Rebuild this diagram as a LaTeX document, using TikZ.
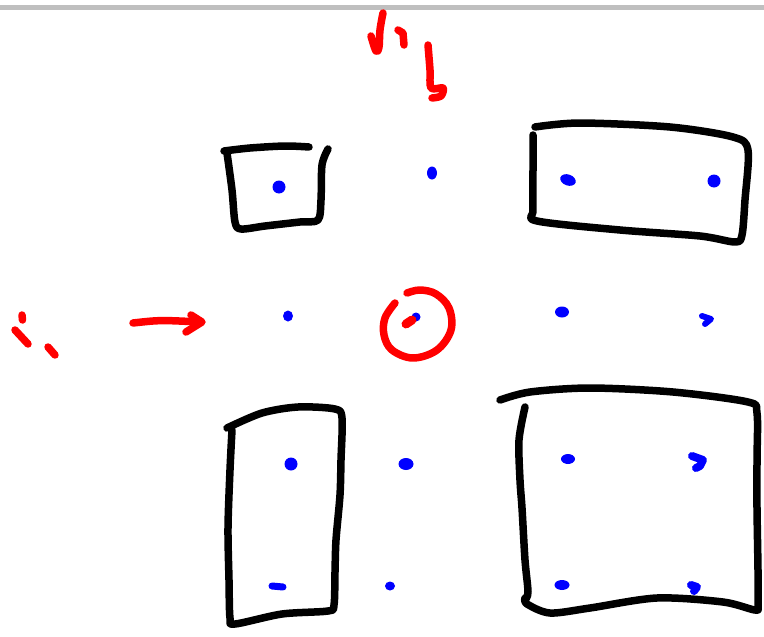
\documentclass[tikz,border=0pt]{standalone}
\usetikzlibrary{shapes.geometric}
\begin{document}
\begin{tikzpicture}[x=1pt,y=-1pt,
  pen/.style={line width=7.5pt,line cap=round,line join=round,black},
  redpen/.style={line width=7.5pt,line cap=round,line join=round,red},
  bluepen/.style={line width=8pt,line cap=round,line join=round,blue},
  dot/.style={ellipse,fill=blue,inner sep=0pt,minimum width=12pt,minimum height=11pt}]
\useasboundingbox (0,0) rectangle (764,637);
\fill[white] (0,0) rectangle (764,637);
\fill[black!25] (0,4.5) rectangle (764,9.5);

% boxes
\draw[pen] plot[smooth] coordinates {(224,151) (250,148) (285,146) (309,147)};
\draw[pen] plot[smooth,tension=0.5] coordinates {(227,153) (232,190) (235,222) (241,229) (265,226) (300,222) (318,220) (321,200) (322,165) (328,149)};

\draw[pen] plot[smooth,tension=0.5] coordinates {(535,127) (580,123) (670,127) (733,137) (748,150) (745,200) (742,235) (735,242) (700,236) (620,230) (537,221) (533,210) (533,170) (533,135)};

\draw[pen] plot[smooth,tension=0.5] coordinates {(227,428) (262,413) (298,407) (335,409) (342,418) (341,460) (340,495) (336,540) (335,572) (334,605) (328,611) (282,614) (235,624) (230,618) (229,580) (228,528) (230,470) (232,430)};

\draw[pen] plot[smooth,tension=0.5] coordinates {(500,400) (530,392) (590,388) (673,392) (748,402) (757,413) (757,460) (757,508) (758,570) (758,605) (755,610) (723,602) (657,598) (590,608) (550,613) (527,604) (525,598)};
\draw[pen] plot[smooth,tension=0.5] coordinates {(525,407) (519,440) (520,480) (522,508) (525,560) (528,592) (525,600)};

% blue dots
\node[dot,minimum width=13pt,minimum height=13pt] (a1) at (279,187) {};
\node[dot,minimum width=10pt,minimum height=13pt] (a2) at (432,173) {};
\node[dot,minimum width=16pt,minimum height=11pt,rotate=-20] (a3) at (568,180) {};
\node[dot,minimum width=13pt,minimum height=13pt] (a4) at (714,181) {};
\node[dot,minimum width=10pt,minimum height=11pt] (b1) at (288,316) {};
\node[dot,minimum width=9pt,minimum height=9pt] (b2) at (416,317) {};
\node[dot,minimum width=14pt,minimum height=11pt] (b3) at (562,312) {};
\draw[bluepen,line width=6pt] (702,316) -- (711,319) -- (705,324);
\node[dot,minimum width=13pt,minimum height=13pt] (c1) at (291,464) {};
\node[dot,minimum width=15pt,minimum height=12pt] (c2) at (406,464) {};
\node[dot,minimum width=14pt,minimum height=10pt] (c3) at (568,459) {};
\draw[bluepen] (692,456) -- (703,460) -- (700,466) -- (696,468);
\draw[bluepen,line width=7pt] (272,586) -- (283,587);
\node[dot,minimum width=10pt,minimum height=9pt] (d2) at (390,586) {};
\node[dot,minimum width=15pt,minimum height=10pt] (d3) at (562,585) {};
\draw[bluepen] (691,585) -- (697,587) -- (694,591);

% red marks
\draw[redpen] plot[smooth,tension=0.6] coordinates {(395,303) (385,318) (384,335) (392,350) (413,358) (437,350) (451,330) (449,308) (436,294) (420,290) (407,293)};
\draw[redpen,line width=9pt] (406,324) -- (412,320);

\coordinate (arS) at (133,323);
\coordinate (arE) at (200,322);
\draw[redpen] (arS) .. controls (160,320) .. (arE);
\draw[redpen] (191,315) -- (202,322) -- (186,332);

\draw[redpen] (22,315) -- (22.5,320);
\draw[redpen] (15,330) -- (28,344);
\draw[redpen] (48,347) -- (55,355);

\draw[redpen] plot[smooth,tension=0.6] coordinates {(383,13) (380,30) (379,47) (376,51) (371,36)};
\draw[redpen] (398,30) -- (403,33) -- (404,45);
\draw[redpen] plot[smooth,tension=0.5] coordinates {(428,45) (430,70) (431,88) (443,88) (441,96) (432,98)};
\end{tikzpicture}
\end{document}
